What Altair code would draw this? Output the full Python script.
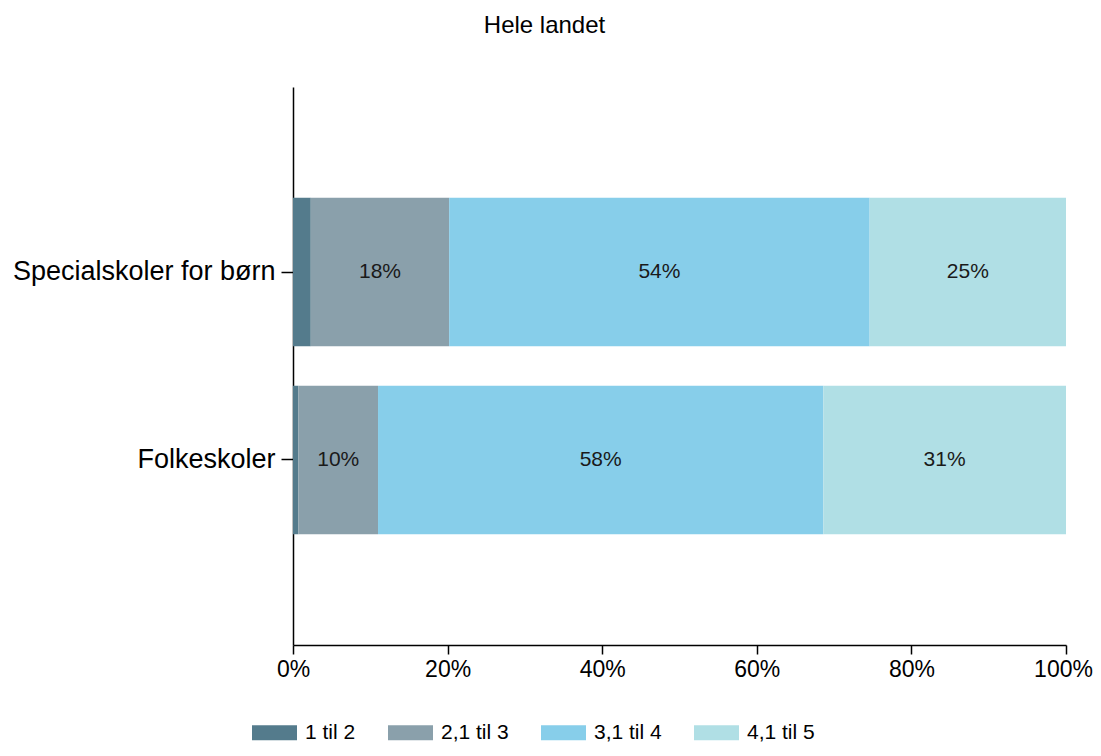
import altair as alt
import pandas as pd

categories = ["Specialskoler for børn", "Folkeskoler"]
groups = ["1 til 2", "2,1 til 3", "3,1 til 4", "4,1 til 5"]
special_values = [2.3, 17.9, 54.4, 25.4]
folke_values = [0.7, 10.3, 57.6, 31.4]
colors = ["#547b8c", "#8aa0ab", "#87ceea", "#b0dfe5"]
x_ticks = [0, 20, 40, 60, 80, 100]

rows = []
for cat, vals in zip(categories, [special_values, folke_values]):
    for i, (g, v) in enumerate(zip(groups, vals)):
        rows.append({"kategori": cat, "gruppe": g, "idx": i, "andel": v})
df = pd.DataFrame(rows)

FONT = "Liberation Sans"

y_enc = alt.Y(
    "kategori:N",
    sort=categories,
    title=None,
    scale=alt.Scale(paddingInner=0.21, paddingOuter=0.59),
    axis=alt.Axis(
        labelFontSize=27, labelColor="#000000", labelFont=FONT, labelLimit=0,
        tickSize=12, tickColor="#000000", domainColor="#000000",
        domainWidth=1.5, tickWidth=1.5, labelPadding=6, grid=False,
    ),
)

bars = alt.Chart(df).mark_bar(stroke=None).encode(
    x=alt.X(
        "andel:Q", stack="zero",
        scale=alt.Scale(domain=[0, 100], nice=False),
        title=None,
        axis=alt.Axis(
            values=x_ticks, labelExpr="datum.value + '%'",
            labelFontSize=23, labelColor="#000000", labelFont=FONT,
            tickSize=9, tickColor="#000000", domainColor="#000000",
            domainWidth=1.5, tickWidth=1.5, labelPadding=4, grid=False,
            labelFlush=False,
            labelOffset={"condition": {"test": "datum.value == 100", "value": -3}, "value": 0},
        ),
    ),
    y=y_enc,
    color=alt.Color(
        "gruppe:N",
        sort=groups,
        scale=alt.Scale(domain=groups, range=colors),
        legend=alt.Legend(
            title=None, orient="none", direction="horizontal",
            legendX=-29, legendY=635,
            symbolType="M-3,-1H3V1H-3Z", symbolSize=225,
            symbolStrokeWidth=0, symbolOpacity=1,
            labelFontSize=21, labelFont=FONT, labelColor="#000000",
            labelOffset=20, columnPadding=32,
        ),
    ),
    order=alt.Order("idx:Q", sort="ascending"),
)

labels = alt.Chart(df).transform_stack(
    stack="andel", groupby=["kategori"], as_=["x0", "x1"],
    sort=[alt.SortField("idx", order="ascending")],
).transform_calculate(
    mid="(datum.x0 + datum.x1) / 2",
    txt="format(round(datum.andel), 'd') + '%'",
).transform_filter("datum.andel >= 5").mark_text(
    fontSize=21, font=FONT, color="#1a1a1a", align="center", baseline="middle",
).encode(
    x=alt.X("mid:Q"),
    y=alt.Y("kategori:N", sort=categories),
    text="txt:N",
)

chart = alt.layer(bars, labels).properties(
    width=773,
    height=558,
    title=alt.TitleParams(
        "Hele landet", fontSize=24, font=FONT, fontWeight="normal",
        color="#000000", anchor="middle", dx=-135, offset=49,
    ),
    autosize=alt.AutoSizeParams(type="none"),
    padding={"left": 285, "top": 79, "right": 27, "bottom": 103},
).configure_view(stroke=None)

chart.save("out.html", embed_options={"renderer": "svg", "actions": False})
